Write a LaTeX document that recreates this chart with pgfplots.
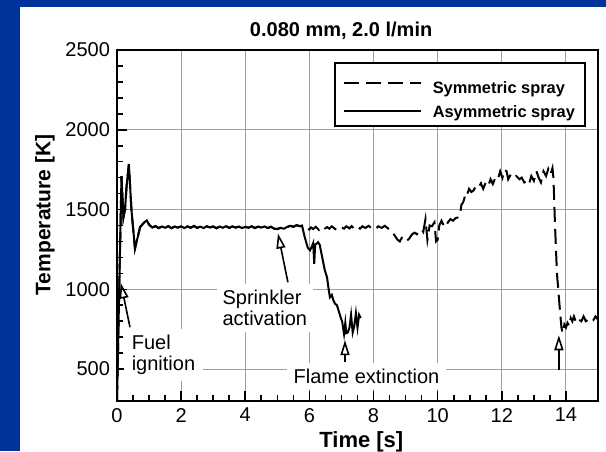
\documentclass[border=0pt]{standalone}
\usepackage{fontspec}
\setmainfont{Liberation Sans}
\usepackage{pgfplots}
\pgfplotsset{compat=1.18}
\usepackage{pgfplotstable}
\usetikzlibrary{arrows.meta}
\definecolor{slideblue}{RGB}{0,51,153}

% symmetric spray (dashed)
\pgfplotstableread{
t T
0.00 300
0.08 1100
0.14 1710
0.20 1450
0.25 1500
0.30 1650
0.37 1785
0.45 1500
0.56 1255
0.65 1330
0.72 1390
0.85 1420
0.93 1432
1.0 1405
1.1 1388
1.2 1396
1.3 1384
1.4 1394
1.5 1386
1.6 1396
1.7 1383
1.8 1393
1.9 1387
2.0 1395
2.1 1384
2.2 1394
2.3 1386
2.4 1397
2.5 1385
2.6 1393
2.7 1384
2.8 1395
2.9 1388
3.0 1394
3.1 1383
3.2 1393
3.3 1386
3.4 1396
3.5 1385
3.6 1394
3.7 1387
3.8 1393
3.9 1384
4.0 1392
4.1 1386
4.2 1395
4.3 1384
4.4 1393
4.5 1387
4.6 1394
4.7 1384
4.8 1392
4.9 1380
5.0 1378
5.1 1385
5.2 1380
5.3 1390
5.4 1398
5.5 1392
5.6 1402
5.70 1396
5.80 1392
5.90 1385
6.00 1375
6.05 1388
6.12 1378
6.20 1392
6.30 1372
6.38 1388
6.45 1376
6.55 1390
6.62 1380
6.70 1395
6.80 1378
6.90 1372
7.00 1390
7.08 1380
7.15 1395
7.25 1382
7.32 1396
7.40 1378
7.50 1392
7.58 1380
7.65 1395
7.75 1385
7.85 1398
7.95 1380
8.05 1375
8.15 1395
8.25 1385
8.35 1398
8.45 1382
8.55 1372
8.65 1340
8.75 1310
8.82 1300
8.90 1330
8.98 1320
9.05 1305
9.12 1320
9.20 1345
9.28 1355
9.35 1345
9.42 1370
9.50 1375
9.55 1360
9.62 1440
9.68 1310
9.75 1400
9.82 1395
9.90 1420
9.95 1300
10.00 1310
10.05 1400
10.12 1430
10.20 1395
10.25 1390
10.32 1420
10.40 1440
10.48 1430
10.55 1445
10.62 1450
10.70 1470
10.74 1530
10.78 1540
10.82 1560
10.88 1610
10.93 1600
10.98 1630
11.05 1610
11.12 1620
11.20 1650
11.28 1640
11.35 1665
11.42 1630
11.50 1670
11.58 1650
11.65 1690
11.72 1660
11.80 1700
11.88 1690
11.95 1740
12.02 1700
12.08 1750
12.15 1740
12.20 1690
12.28 1720
12.35 1700
12.45 1710
12.55 1690
12.62 1700
12.70 1670
12.78 1680
12.85 1660
12.92 1710
13.00 1680
13.08 1740
13.15 1700
13.22 1670
13.30 1740
13.38 1710
13.45 1755
13.52 1720
13.58 1760
13.61 1700
13.66 1400
13.72 1100
13.80 900
13.86 760
13.90 725
13.95 780
14.00 760
14.05 790
14.10 770
14.15 820
14.20 800
14.25 830
14.32 790
14.40 810
14.48 800
14.55 830
14.62 800
14.70 810
14.78 795
14.85 805
14.92 830
15.00 810
}\symtab

% asymmetric spray (solid)
\pgfplotstableread{
t T
0.00 300
0.08 1100
0.14 1710
0.20 1450
0.25 1500
0.30 1650
0.37 1785
0.45 1500
0.56 1255
0.65 1330
0.72 1390
0.85 1420
0.93 1432
1.0 1405
1.1 1388
1.2 1396
1.3 1384
1.4 1394
1.5 1386
1.6 1396
1.7 1383
1.8 1393
1.9 1387
2.0 1395
2.1 1384
2.2 1394
2.3 1386
2.4 1397
2.5 1385
2.6 1393
2.7 1384
2.8 1395
2.9 1388
3.0 1394
3.1 1383
3.2 1393
3.3 1386
3.4 1396
3.5 1385
3.6 1394
3.7 1387
3.8 1393
3.9 1384
4.0 1392
4.1 1386
4.2 1395
4.3 1384
4.4 1393
4.5 1387
4.6 1394
4.7 1384
4.8 1392
4.9 1380
5.0 1378
5.1 1385
5.2 1380
5.3 1390
5.4 1398
5.5 1392
5.6 1402
5.70 1396
5.77 1400
5.85 1330
5.95 1260
6.02 1244
6.08 1270
6.12 1290
6.15 1160
6.18 1280
6.22 1285
6.27 1295
6.32 1280
6.40 1200
6.48 1120
6.55 1075
6.60 1000
6.64 950
6.70 965
6.75 930
6.80 910
6.86 900
6.92 860
6.98 820
7.02 800
7.05 760
7.08 720
7.12 790
7.15 725
7.20 730
7.25 760
7.30 840
7.35 730
7.40 770
7.45 850
7.50 760
7.55 840
7.60 820
}\asymtab

\begin{document}
\begin{tikzpicture}
\fill[white] (0pt,0pt) rectangle (303pt,225.5pt);
\fill[slideblue] (0pt,0pt) rectangle (10pt,225.5pt);
\fill[slideblue] (0pt,222pt) rectangle (303pt,225.5pt);
\begin{axis}[
    at={(58.5pt,25pt)}, anchor=south west,
    scale only axis, width=240.5pt, height=175.5pt,
    xmin=0, xmax=15, ymin=300, ymax=2500,
    xtick={0,2,...,14}, ytick={500,1000,...,2500},
    minor x tick num=3, minor y tick num=4,
    tick align=inside, tick pos=left,
    major tick length=5pt, minor tick length=3pt,
    every tick/.style={black, line width=0.8pt},
    axis line style={line width=1.3pt},
    grid=major,
    major grid style={gray!75, line width=0.5pt},
    /pgf/number format/assume math mode=true,
    /pgf/number format/1000 sep={},
    ticklabel style={font=\fontsize{10}{12}\selectfont},
    title={0.080 mm, 2.0 l/min},
    title style={at={(0.466,1)}, anchor=base, yshift=1pt,
        font=\fontsize{10}{12}\selectfont\bfseries},
    xlabel={Time [s]},
    xlabel style={at={(0.508,0)}, anchor=center, yshift=-20.5pt,
        font=\fontsize{11}{13}\selectfont\bfseries},
    ylabel={Temperature [K]},
    ylabel style={at={(0,0.53)}, anchor=center, yshift=36pt,
        font=\fontsize{10.5}{12}\selectfont\bfseries},
    legend style={at={(0.975,0.966)}, anchor=north east,
        draw=black, line width=1pt,
        inner xsep=4pt, inner ysep=1.9pt, row sep=0pt,
        font=\fontsize{8.2}{9.5}\selectfont\bfseries,
        nodes={inner sep=1pt, text height=7.9pt, text depth=1.8pt},
        /tikz/every odd row/.append style={nodes={text height=12.45pt}},
        /tikz/every odd column/.append style={column sep=4.5pt}},
    legend cell align=left,
    legend image code/.code={\draw[#1, line width=1pt] (0pt,0pt) -- (38.3pt,0pt);},
]
\addplot[black, line width=1pt, dash pattern=on 7.5pt off 3.5pt] table[x=t, y=T] {\symtab};
\addlegendentry{Symmetric spray}
\addplot[black, line width=1pt] table[x=t, y=T] {\asymtab};
\addlegendentry{Asymmetric spray}

\node[fill=white, inner xsep=4pt, inner ysep=3pt, align=left,
    font=\fontsize{10}{10.5}\selectfont] at (axis cs:1.45,587) {Fuel\\ignition};
\node[fill=white, inner xsep=3pt, inner ysep=3pt, align=left,
    font=\fontsize{10}{10.5}\selectfont] at (axis cs:4.61,881) {Sprinkler\\activation};
\node[fill=white, inner xsep=3.5pt, inner ysep=3pt,
    font=\fontsize{10}{10.5}\selectfont] at (axis cs:7.78,456) {Flame extinction};

\draw[line width=0.8pt, -{Triangle[open, length=7.5pt, width=4.5pt]}]
    (axis cs:0.405,762) -- (axis cs:0.125,1037);
\draw[line width=0.8pt, -{Triangle[open, length=7.5pt, width=4.5pt]}]
    (axis cs:5.33,1044) -- (axis cs:5.02,1350);
\draw[line width=0.8pt, -{Triangle[open, length=7.5pt, width=4.5pt]}]
    (axis cs:7.11,544) -- (axis cs:7.11,681);
\draw[line width=0.8pt, -{Triangle[open, length=7.5pt, width=4.5pt]}]
    (axis cs:13.78,494) -- (axis cs:13.78,712);
\end{axis}
\pgfresetboundingbox
\useasboundingbox (0pt,0pt) rectangle (303pt,225.5pt);
\end{tikzpicture}
\end{document}
